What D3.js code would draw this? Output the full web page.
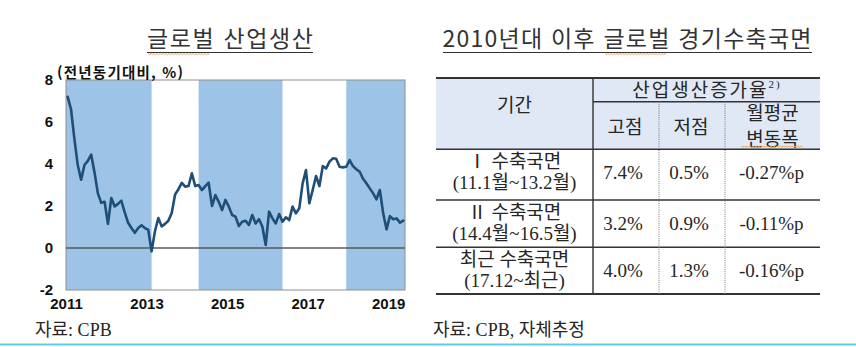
<!DOCTYPE html>
<html lang="ko">
<head>
<meta charset="utf-8">
<script src="https://cdn.jsdelivr.net/npm/d3@7"></script>
<style>
  html, body { margin: 0; padding: 0; background: #fff; }
  svg { display: block; }
</style>
</head>
<body>
<svg id="fig" width="856" height="347"></svg>
<script>
// ---- Global industrial production, y/y %, monthly from 2011-01 ----
const seriesStart = "2011-01";
const ipGrowth = [
  7.2, 6.6, 5.2, 3.95, 3.25, 3.95, 4.15, 4.45, 3.6, 2.6,
  2.15, 2.2, 1.15, 2.38, 1.98, 2.1, 2.25, 1.7, 1.2, 0.95,
  0.72, 0.95, 1.08, 0.95, 0.87, -0.16, 0.8, 1.43, 1.03, 1.15,
  1.3, 1.67, 2.55, 2.8, 3.1, 2.92, 2.95, 3.56, 2.95, 3.0,
  2.76, 2.95, 3.11, 2.0, 2.52, 2.2, 1.81, 2.29, 1.97, 1.57,
  1.49, 1.05, 1.25, 1.3, 1.1, 1.57, 1.17, 1.37, 1.02, 0.14,
  1.73, 1.41, 1.17, 1.62, 1.25, 1.46, 1.33, 1.97, 1.65, 1.89,
  3.08, 3.71, 2.13, 2.76, 3.43, 2.95, 3.9, 3.79, 4.11, 4.27,
  4.25, 3.87, 3.84, 3.87, 4.19, 3.9, 3.75, 3.63, 3.3, 3.08,
  2.84, 2.6, 2.32, 2.76, 1.65, 0.89, 1.52, 1.37, 1.41, 1.21,
  1.3
];
// contraction phases (shaded); an open end runs to the edge of the axis
const phaseStarts = ["2011-01", "2014-04", "2017-12"];
const phaseEnds   = ["2013-02", "2016-05", null];
const yTicks = [-2, 0, 2, 4, 6, 8];
const xTickMonths = ["2011-01", "2013-01", "2015-01", "2017-01", "2019-01"];
const xTickLabels = ["2011", "2013", "2015", "2017", "2019"];

// ---- Contraction phase table ----
const phaseNames   = ["Ⅰ 수축국면", "Ⅱ 수축국면", "최근  수축국면"];
const phasePeriods = ["(11.1월~13.2월)", "(14.4월~16.5월)", "(17.12~최근)"];
const peakRates    = [7.4, 3.2, 4.0];
const troughRates  = [0.5, 0.9, 1.3];
const avgMonthlyChange = [-0.27, -0.11, -0.16];

const svg = d3.select("#fig");
const SANS = "'Noto Sans CJK KR', 'Noto Sans', sans-serif";
const ARIAL = "'Liberation Sans', 'Noto Sans CJK KR', sans-serif";
const SERIF = "'Liberation Serif', 'Noto Sans CJK KR', serif";
const INK = "#262626";

function monthIndex(s) {
  const [y0, m0] = seriesStart.split("-").map(Number);
  const [y, m] = s.split("-").map(Number);
  return (y - y0) * 12 + (m - m0);
}

// spell-check style squiggle
function squiggle(g, x0, x1, y) {
  const pts = [];
  for (let xx = x0, k = 0; xx <= x1; xx += 1.5, k++) pts.push([xx, y + (k % 2 ? 1.2 : 0)]);
  g.append("path").attr("d", d3.line()(pts))
    .attr("fill", "none").attr("stroke", "#e3a15a").attr("stroke-width", 0.9);
}

// =================== Left: line chart ===================
const plot = { left: 66, right: 405, top: 80, bottom: 290 };
const x = d3.scaleLinear().domain([0, ipGrowth.length]).range([plot.left, plot.right]);
const y = d3.scaleLinear().domain([-2, 8]).range([plot.bottom, plot.top]);
const px = i => x(i + 0.5);   // each month's point sits mid-month

const left = svg.append("g");

// title
left.append("text")
  .attr("x", 230).attr("y", 47).attr("text-anchor", "middle")
  .attr("font-family", SANS).attr("font-size", 23).attr("fill", "#333")
  .attr("textLength", 166).attr("lengthAdjust", "spacing")
  .text("글로벌 산업생산");
left.append("line").attr("x1", 147).attr("x2", 313).attr("y1", 52.5).attr("y2", 52.5)
  .attr("stroke", "#333").attr("stroke-width", 1);
squiggle(left, 148, 210, 53.5);

// shaded contraction phases
left.append("g").selectAll("rect")
  .data(phaseStarts.map((s, i) => ({ s, e: phaseEnds[i] })))
  .join("rect")
  .attr("x", d => d.s === seriesStart ? x(0) : px(monthIndex(d.s)))
  .attr("width", d => {
    const x0 = d.s === seriesStart ? x(0) : px(monthIndex(d.s));
    const x1 = d.e ? px(monthIndex(d.e)) : x(ipGrowth.length);
    return x1 - x0;
  })
  .attr("y", plot.top).attr("height", plot.bottom - plot.top)
  .attr("fill", "#9dc3e6");

// frame
left.append("rect")
  .attr("x", plot.left).attr("y", plot.top)
  .attr("width", plot.right - plot.left).attr("height", plot.bottom - plot.top)
  .attr("fill", "none").attr("stroke", "#8f8f8f").attr("stroke-width", 1);

// zero line
left.append("line")
  .attr("x1", plot.left).attr("x2", plot.right)
  .attr("y1", y(0)).attr("y2", y(0))
  .attr("stroke", "#5a5a5a").attr("stroke-width", 1.4);

// series
left.append("path")
  .datum(ipGrowth)
  .attr("d", d3.line().x((d, i) => px(i)).y(d => y(d)))
  .attr("fill", "none").attr("stroke", "#1f4e79")
  .attr("stroke-width", 2.6).attr("stroke-linejoin", "round").attr("stroke-linecap", "round");

// axes
const yAxis = left.append("g")
  .attr("transform", `translate(${plot.left},0)`)
  .call(d3.axisLeft(y).tickValues(yTicks).tickSize(0).tickPadding(13).tickFormat(d => String(d)));
const xAxis = left.append("g")
  .attr("transform", `translate(0,${plot.bottom})`)
  .call(d3.axisBottom(x).tickValues(xTickMonths.map(monthIndex)).tickSize(0).tickPadding(8)
    .tickFormat((d, i) => xTickLabels[i]));
[yAxis, xAxis].forEach(a => {
  a.select(".domain").remove();
  a.selectAll("text").attr("font-family", ARIAL).attr("font-weight", "bold")
    .attr("font-size", 15).attr("fill", "#111");
});

// unit
left.append("text")
  .attr("x", 57).attr("y", 78)
  .attr("font-family", SANS).attr("font-weight", "bold").attr("font-size", 14.5)
  .attr("fill", "#111").attr("textLength", 126).attr("lengthAdjust", "spacing")
  .text("(전년동기대비, %)");

// source
left.append("text")
  .attr("x", 35).attr("y", 336)
  .attr("font-family", SERIF).attr("font-size", 18).attr("fill", INK)
  .text("자료: CPB");

// =================== Right: table ===================
const right = svg.append("g");
right.append("text")
  .attr("x", 627).attr("y", 47).attr("text-anchor", "middle")
  .attr("font-family", SANS).attr("font-size", 23).attr("fill", "#333")
  .attr("textLength", 369).attr("lengthAdjust", "spacing")
  .text("2010년대 이후 글로벌 경기수축국면");
right.append("line").attr("x1", 443).attr("x2", 812).attr("y1", 52.5).attr("y2", 52.5)
  .attr("stroke", "#333").attr("stroke-width", 1);
squiggle(right, 605, 667, 53.5);

const colX = [436, 593, 659, 725, 820];
const rowY = [78, 149.3, 200, 247.3, 294];
const subHeadY = 101.7;
const colMid = i => (colX[i] + colX[i + 1]) / 2;

// header background
right.append("rect")
  .attr("x", colX[0]).attr("y", rowY[0])
  .attr("width", colX[4] - colX[0]).attr("height", rowY[1] - rowY[0])
  .attr("fill", "#dfe8f4");

// horizontal rules
right.selectAll("line.h")
  .data(rowY)
  .join("line")
  .attr("x1", colX[0]).attr("x2", colX[4])
  .attr("y1", d => d).attr("y2", d => d)
  .attr("stroke", "#333")
  .attr("stroke-width", (d, i) => (i === 0 || i === rowY.length - 1) ? 2 : 1.4);
right.append("line")
  .attr("x1", colX[1]).attr("x2", colX[4]).attr("y1", subHeadY).attr("y2", subHeadY)
  .attr("stroke", "#333").attr("stroke-width", 1.4);

// vertical rules
right.append("line")
  .attr("x1", colX[1]).attr("x2", colX[1]).attr("y1", rowY[0]).attr("y2", rowY[4])
  .attr("stroke", "#333").attr("stroke-width", 1.4);
[colX[2], colX[3]].forEach(cx => {
  right.append("line")
    .attr("x1", cx).attr("x2", cx).attr("y1", subHeadY).attr("y2", rowY[4])
    .attr("stroke", "#777").attr("stroke-width", 1).attr("stroke-dasharray", "1,1.2");
});

function cellText(cx, cy, str, opts = {}) {
  return right.append("text")
    .attr("x", cx).attr("y", cy).attr("text-anchor", "middle")
    .attr("dominant-baseline", "central")
    .attr("font-family", SERIF).attr("font-size", opts.size || 19)
    .attr("fill", INK)
    .text(str);
}

// header cells
cellText(colMid(0), 105, "기간");
const h = cellText(707, 90, "산업생산증가율").attr("letter-spacing", 2);
h.append("tspan").attr("font-size", 11).attr("dy", -6).text("2)");
cellText(colMid(1) - 1, 127, "고점");
cellText(colMid(2) - 1, 127, "저점");
cellText(colMid(3), 113, "월평균");
cellText(colMid(3), 139, "변동폭");
squiggle(right, 741, 803, 146);

// body rows
const fmtPct = v => v.toFixed(1) + "%";
const fmtPp = v => v.toFixed(2) + "%p";
phaseNames.forEach((name, i) => {
  const top = rowY[i + 1];
  cellText(colMid(0), top + 12.5, name);
  cellText(colMid(0), top + 33, phasePeriods[i]);
  cellText(colMid(1) - 3, top + 23.5, fmtPct(peakRates[i]));
  cellText(colMid(2) - 3, top + 23.5, fmtPct(troughRates[i]));
  cellText(colMid(3) - 1, top + 23.5, fmtPp(avgMonthlyChange[i]));
});

// source
right.append("text")
  .attr("x", 433).attr("y", 336)
  .attr("font-family", SERIF).attr("font-size", 18).attr("fill", INK)
  .text("자료: CPB, 자체추정");

// bottom rule across the page
svg.append("line")
  .attr("x1", 0).attr("x2", 856).attr("y1", 344.5).attr("y2", 344.5)
  .attr("stroke", "#62cde2").attr("stroke-width", 2);
</script>
</body>
</html>
